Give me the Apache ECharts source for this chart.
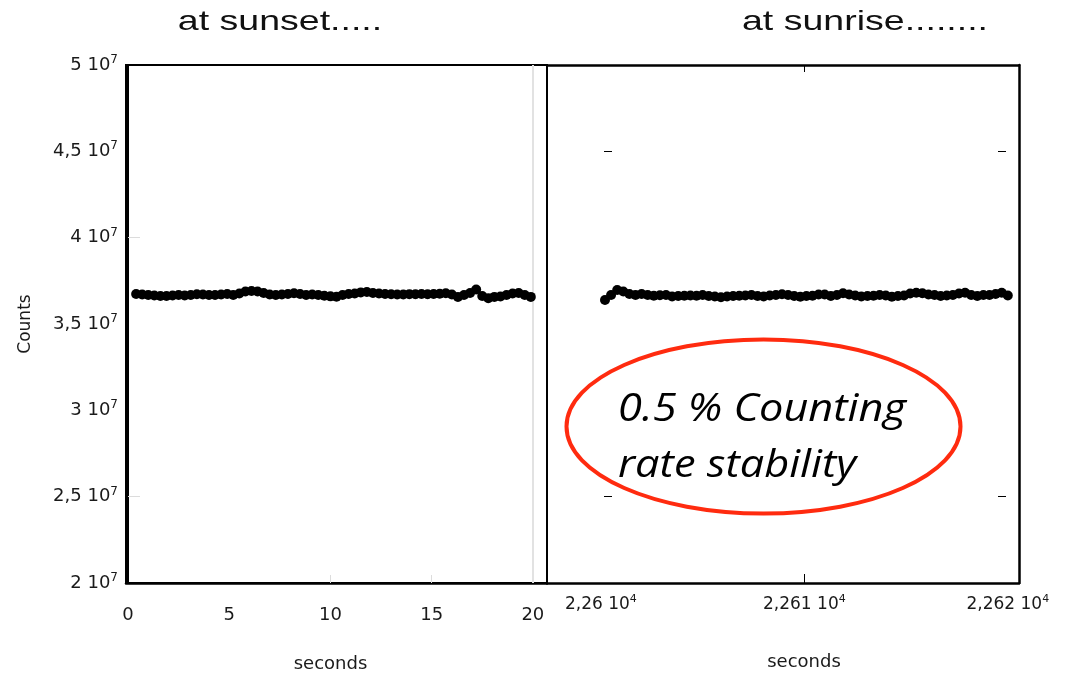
<!DOCTYPE html>
<html>
<head>
<meta charset="utf-8">
<script src="https://cdn.jsdelivr.net/npm/echarts@6/dist/echarts.min.js"></script>
<style>html,body{margin:0;padding:0;background:#fff}#c{width:1065px;height:675px}</style>
</head>
<body>
<div id="c"></div>
<script>
// ---- data ----
const sunsetTime = [0.4,0.7,1.0,1.3,1.6,1.9,2.2,2.5,2.8,3.1,3.4,3.7,4.0,4.3,4.6,4.9,5.2,5.5,5.8,6.1,6.4,6.7,7.0,7.3,7.6,7.9,8.2,8.5,8.8,9.1,9.4,9.7,10.0,10.3,10.6,10.9,11.2,11.5,11.8,12.1,12.4,12.7,13.0,13.3,13.6,13.9,14.2,14.5,14.8,15.1,15.4,15.7,16.0,16.3,16.6,16.9,17.2,17.5,17.8,18.1,18.4,18.7,19.0,19.3,19.6,19.9];
const sunsetCounts = [3.674e7,3.671e7,3.668e7,3.665e7,3.662e7,3.662e7,3.665e7,3.668e7,3.665e7,3.668e7,3.672e7,3.671e7,3.668e7,3.668e7,3.671e7,3.674e7,3.668e7,3.677e7,3.688e7,3.691e7,3.688e7,3.680e7,3.671e7,3.668e7,3.671e7,3.674e7,3.678e7,3.674e7,3.668e7,3.671e7,3.668e7,3.664e7,3.660e7,3.658e7,3.668e7,3.674e7,3.677e7,3.683e7,3.685e7,3.680e7,3.677e7,3.674e7,3.672e7,3.671e7,3.671e7,3.673e7,3.672e7,3.674e7,3.672e7,3.674e7,3.675e7,3.678e7,3.671e7,3.657e7,3.668e7,3.680e7,3.700e7,3.662e7,3.649e7,3.657e7,3.659e7,3.668e7,3.677e7,3.680e7,3.668e7,3.657e7];
const sunriseTime = [22600.2,22600.5,22600.8,22601.1,22601.4,22601.7,22602.0,22602.3,22602.6,22602.9,22603.2,22603.5,22603.8,22604.1,22604.4,22604.7,22605.0,22605.3,22605.6,22605.9,22606.2,22606.5,22606.8,22607.1,22607.4,22607.7,22608.0,22608.3,22608.6,22608.9,22609.2,22609.5,22609.8,22610.1,22610.4,22610.7,22611.0,22611.3,22611.6,22611.9,22612.2,22612.5,22612.8,22613.1,22613.4,22613.7,22614.0,22614.3,22614.6,22614.9,22615.2,22615.5,22615.8,22616.1,22616.4,22616.7,22617.0,22617.3,22617.6,22617.9,22618.2,22618.5,22618.8,22619.1,22619.4,22619.7,22620.0];
const sunriseCounts = [3.639e7,3.668e7,3.697e7,3.688e7,3.674e7,3.668e7,3.674e7,3.668e7,3.664e7,3.666e7,3.668e7,3.659e7,3.662e7,3.664e7,3.665e7,3.664e7,3.668e7,3.662e7,3.659e7,3.655e7,3.659e7,3.662e7,3.664e7,3.665e7,3.668e7,3.662e7,3.659e7,3.665e7,3.668e7,3.672e7,3.668e7,3.662e7,3.658e7,3.662e7,3.664e7,3.671e7,3.671e7,3.662e7,3.668e7,3.678e7,3.671e7,3.665e7,3.659e7,3.662e7,3.664e7,3.668e7,3.665e7,3.658e7,3.662e7,3.665e7,3.677e7,3.681e7,3.678e7,3.671e7,3.668e7,3.662e7,3.665e7,3.668e7,3.677e7,3.681e7,3.668e7,3.662e7,3.668e7,3.668e7,3.674e7,3.681e7,3.665e7];
const sunsetTicks = [0, 5, 10, 15, 20];
const sunriseTicks = [22600, 22610, 22620];
const countTicks = [2e7, 2.5e7, 3e7, 3.5e7, 4e7, 4.5e7, 5e7];
const titles = ['at sunset.....', 'at sunrise........'];
const noteLines = ['0.5 % Counting', 'rate stability'];
const axisTitleX = 'seconds';
const axisTitleY = 'Counts';

// ---- chart ----
const FONT = 'DejaVu Sans';
const chart = echarts.init(document.getElementById('c'), null, {renderer: 'canvas'});
const comma = s => s.replace('.', ',');
const yFmt = v => '{a|' + comma(String(parseFloat((v / 1e7).toFixed(3)))) + ' 10}{s|7}';
const xFmtR = v => '{a|' + comma(String(parseFloat((v / 1e4).toFixed(4)))) + ' 10}{s|4}';
const yRich = {
  a: {fontSize: 18, fontFamily: FONT, color: '#1a1a1a', lineHeight: 22},
  s: {fontSize: 12, fontFamily: FONT, color: '#1a1a1a', lineHeight: 12, verticalAlign: 'top'}
};
const xRich = {
  a: {fontSize: 17, fontFamily: FONT, color: '#1a1a1a', lineHeight: 22},
  s: {fontSize: 11, fontFamily: FONT, color: '#1a1a1a', lineHeight: 12, verticalAlign: 'top'}
};
const Y0 = 2e7, Y1 = 5e7;
const xRMin = 22597.35, xRMax = 22620.55;

const option = {
  backgroundColor: '#fff',
  animation: false,
  grid: [
    {left: 126, top: 65, width: 421, height: 518, show: true, borderColor: '#000', borderWidth: 2, outerBoundsMode: 'none', containLabel: false},
    {left: 547, top: 65, width: 472, height: 518, show: false, outerBoundsMode: 'none', containLabel: false}
  ],
  xAxis: [
    {
      gridIndex: 0, type: 'value', min: -0.1, max: 20.7,
      axisLine: {show: true, lineStyle: {color: '#000', width: 2.5}},
      axisTick: {show: true, inside: true, length: 8, customValues: [10, 15, 20], lineStyle: {color: '#dcdcdc', width: 1}},
      splitLine: {show: false},
      axisLabel: {customValues: sunsetTicks, fontFamily: FONT, fontSize: 18, color: '#1a1a1a', margin: 22, lineHeight: 20},
      name: axisTitleX, nameLocation: 'middle', nameGap: 72,
      nameTextStyle: {fontFamily: FONT, fontSize: 18, color: '#1a1a1a', padding: [0, 12, 0, 0]}
    },
    {
      gridIndex: 1, type: 'value', min: xRMin, max: xRMax, position: 'bottom',
      axisLine: {show: true, lineStyle: {color: '#000', width: 2.5}},
      axisTick: {show: true, inside: true, length: 9, customValues: [22610], lineStyle: {color: '#000', width: 1}},
      splitLine: {show: false},
      axisLabel: {customValues: sunriseTicks, formatter: xFmtR, rich: xRich, fontSize: 17, fontFamily: FONT, color: '#1a1a1a', margin: 11},
      name: axisTitleX, nameLocation: 'middle', nameGap: 70,
      nameTextStyle: {fontFamily: FONT, fontSize: 18, color: '#1a1a1a', padding: [0, 0, 0, 42]}
    },
    {
      gridIndex: 1, type: 'value', min: xRMin, max: xRMax, position: 'top',
      axisLine: {show: true, lineStyle: {color: '#000', width: 2.5}},
      axisTick: {show: true, inside: true, length: 7, customValues: [22610], lineStyle: {color: '#000', width: 1}},
      splitLine: {show: false},
      axisLabel: {show: false}
    }
  ],
  yAxis: [
    {
      gridIndex: 0, type: 'value', min: Y0, max: Y1, interval: 5e6,
      axisLine: {show: true, lineStyle: {color: '#000', width: 2}},
      axisTick: {show: true, inside: true, length: 12, customValues: [4e7, 2.5e7], lineStyle: {color: '#dcdcdc', width: 1}},
      splitLine: {show: false},
      axisLabel: {customValues: countTicks, formatter: yFmt, rich: yRich, fontSize: 18, fontFamily: FONT, color: '#1a1a1a', margin: 8},
      name: axisTitleY, nameLocation: 'middle', nameRotate: 90, nameGap: 92,
      nameTextStyle: {fontFamily: FONT, fontSize: 17, color: '#1a1a1a'}
    },
    {
      gridIndex: 1, type: 'value', min: Y0, max: Y1, position: 'left', offset: -57,
      axisLine: {show: false},
      axisTick: {show: true, inside: true, length: 8, customValues: [4.5e7, 2.5e7], lineStyle: {color: '#000', width: 1}},
      splitLine: {show: false}, axisLabel: {show: false}
    },
    {
      gridIndex: 1, type: 'value', min: Y0, max: Y1, position: 'right', offset: -13,
      axisLine: {show: false},
      axisTick: {show: true, inside: true, length: 8, customValues: [4.5e7, 2.5e7], lineStyle: {color: '#000', width: 1}},
      splitLine: {show: false}, axisLabel: {show: false}
    },
    {
      gridIndex: 1, type: 'value', min: Y0, max: Y1, position: 'right', offset: 0,
      axisLine: {show: true, lineStyle: {color: '#000', width: 2.5}},
      axisTick: {show: false}, splitLine: {show: false}, axisLabel: {show: false}
    }
  ],
  series: [
    {
      type: 'scatter', xAxisIndex: 0, yAxisIndex: 0,
      data: sunsetTime.map((t, i) => [t, sunsetCounts[i]]),
      symbol: 'circle', symbolSize: 10, itemStyle: {color: '#000', opacity: 1},
      markLine: {silent: true, symbol: 'none', label: {show: false}, z: 1,
        lineStyle: {color: '#e2e2e2', width: 2, type: 'solid'}, data: [{xAxis: 20}]}
    },
    {
      type: 'scatter', xAxisIndex: 1, yAxisIndex: 1,
      data: sunriseTime.map((t, i) => [t, sunriseCounts[i]]),
      symbol: 'circle', symbolSize: 10, itemStyle: {color: '#000', opacity: 1}
    }
  ],
  graphic: [
    {type: 'text', x: 280, y: 22, scaleX: 1.34, style: {text: titles[0], x: 0, y: 0, align: 'center', verticalAlign: 'middle', font: '28px "Liberation Sans"', fill: '#111'}},
    {type: 'text', x: 865, y: 22, scaleX: 1.34, style: {text: titles[1], x: 0, y: 0, align: 'center', verticalAlign: 'middle', font: '28px "Liberation Sans"', fill: '#111'}},
    {type: 'ellipse', shape: {cx: 763.5, cy: 426.5, rx: 197, ry: 87}, style: {fill: 'none', stroke: '#ff2b0f', lineWidth: 4}, z: 10},
    {type: 'text', x: 618, y: 410, scaleX: 1.14, style: {text: noteLines[0], x: 0, y: 0, align: 'left', verticalAlign: 'middle', font: 'italic 38px "Open Sans"', fill: '#000'}, z: 11},
    {type: 'text', x: 618, y: 466, scaleX: 1.14, style: {text: noteLines[1], x: 0, y: 0, align: 'left', verticalAlign: 'middle', font: 'italic 38px "Open Sans"', fill: '#000'}, z: 11}
  ]
};
chart.setOption(option);
</script>
</body>
</html>
